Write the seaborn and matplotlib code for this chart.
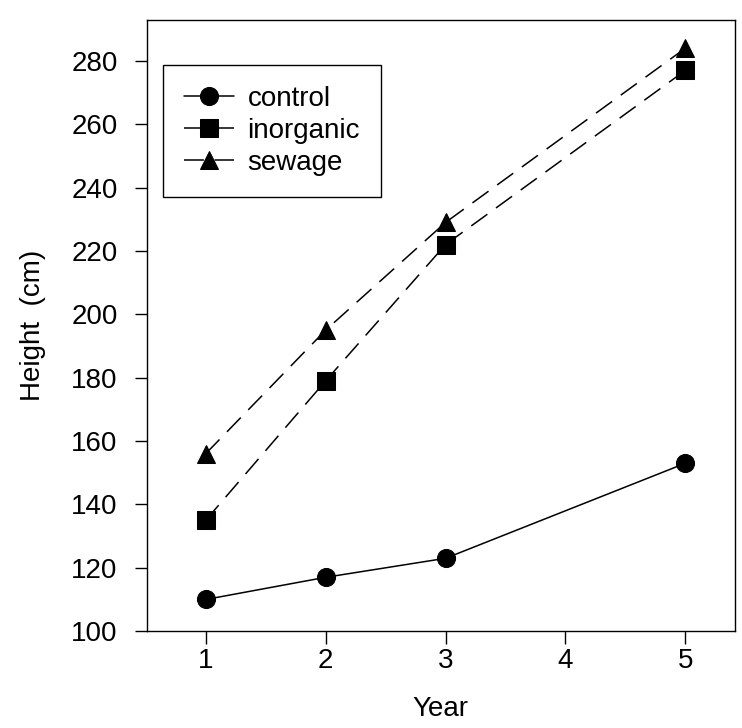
import pandas as pd
import matplotlib
matplotlib.use("Agg")
import matplotlib.pyplot as plt
import seaborn as sns

# Values
years = [1, 2, 3, 5]
control = [110, 117, 123, 153]
inorganic = [135, 179, 222, 277]
sewage = [156, 195, 229, 284]
treatments = ["control", "inorganic", "sewage"]

df = pd.DataFrame({
    "Year": years * 3,
    "Height": control + inorganic + sewage,
    "treatment": [t for t in treatments for _ in years],
})

sns.set_style("ticks")
plt.rcParams["font.family"] = ["Liberation Sans", "DejaVu Sans"]
plt.rcParams["text.color"] = "black"
plt.rcParams["axes.labelcolor"] = "black"

fig = plt.figure(figsize=(7.42, 7.28), dpi=100)
ax = fig.add_axes([0.198, 0.133, 0.792, 0.840])

sns.lineplot(
    data=df, x="Year", y="Height", style="treatment", ax=ax,
    color="black", linewidth=1.1,
    markers={"control": "o", "inorganic": "s", "sewage": "^"},
    dashes={"control": "", "inorganic": (13, 7), "sewage": (13, 7)},
    markersize=13, markeredgecolor="black", markerfacecolor="black",
)

ax.set_xlim(0.51, 5.41)
ax.set_ylim(100, 293)
ax.set_xticks([1, 2, 3, 4, 5])
ax.set_yticks(range(100, 281, 20))
ax.tick_params(axis="both", direction="out", length=9, width=1.0,
               labelsize=20, color="black", labelcolor="black")
ax.tick_params(axis="y", pad=12)
ax.tick_params(axis="x", pad=3)
for side in ["top", "right", "bottom", "left"]:
    ax.spines[side].set_visible(True)
    ax.spines[side].set_color("black")
    ax.spines[side].set_linewidth(1.0)

ax.set_xlabel("Year", fontsize=20, labelpad=16)
ax.set_ylabel("Height  (cm)", fontsize=20, labelpad=18)

handles, labels = ax.get_legend_handles_labels()
leg = ax.legend(handles, labels, loc="upper left", bbox_to_anchor=(0.027, 0.926),
                borderaxespad=0, fontsize=20, frameon=True, fancybox=False,
                framealpha=1, edgecolor="black", handlelength=1.8,
                handletextpad=0.5, labelspacing=0.22, borderpad=0.75,
                numpoints=1)
leg.get_frame().set_linewidth(1.0)

fig.savefig("out.png", dpi=100)
